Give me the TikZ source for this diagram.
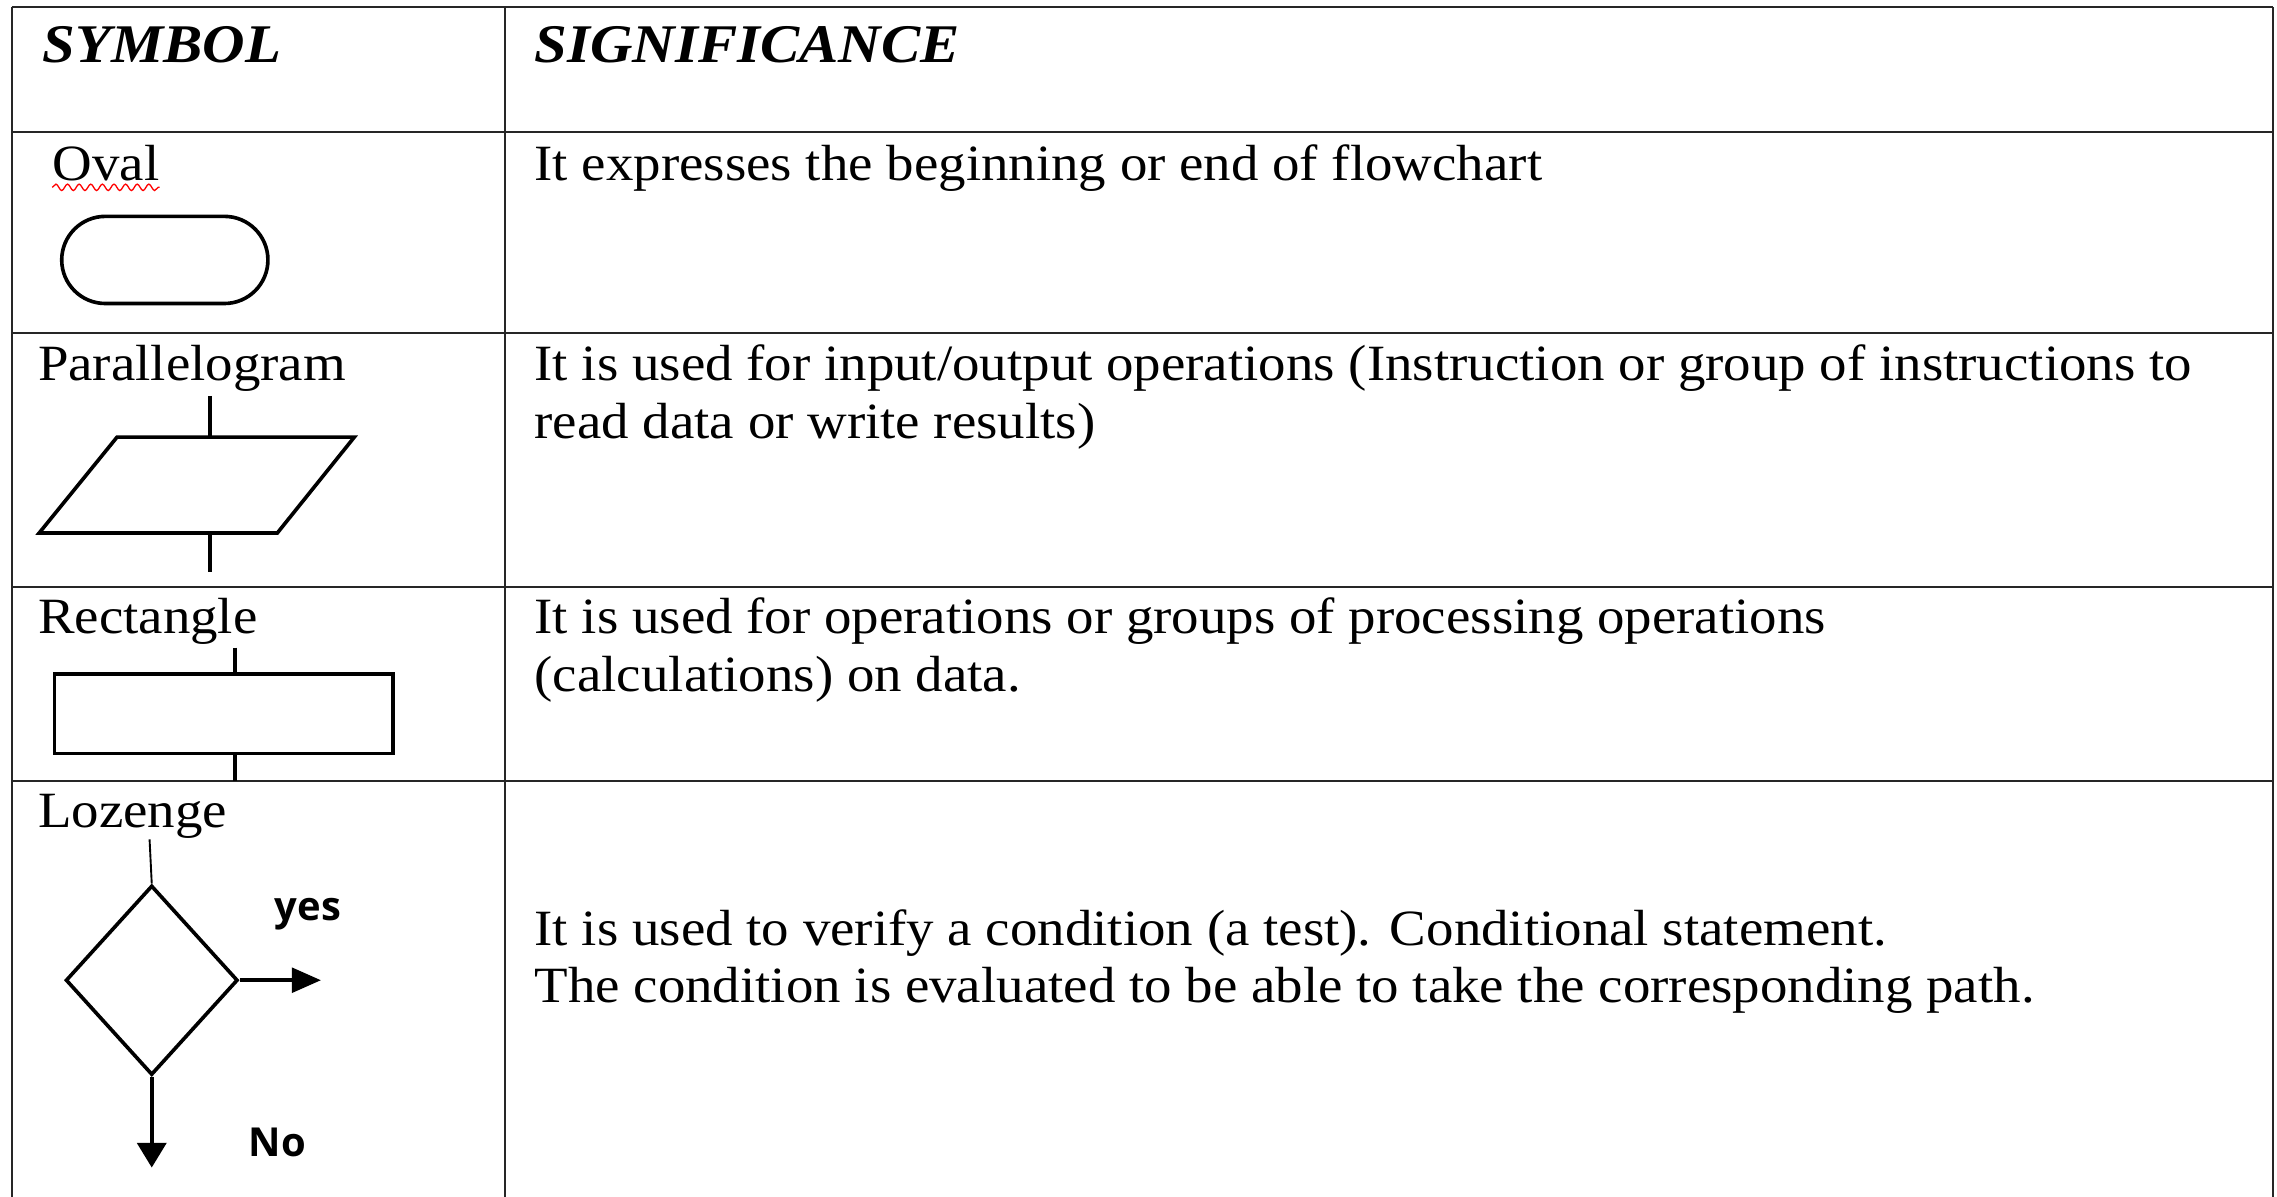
\documentclass[tikz,border=0pt]{standalone}
\usepackage{fontspec}
\setmainfont{Liberation Serif}[FakeStretch=1.08]
\newfontfamily\labelsans{Open Sans}
\usetikzlibrary{arrows.meta,shapes.geometric,decorations.pathmorphing}

\tikzset{
  grid/.style={line width=1.4pt, draw=black!85},
  body/.style={anchor=base west, inner sep=0pt, font=\fontsize{35}{40}\selectfont},
  head/.style={anchor=base west, inner sep=0pt, font=\fontsize{37.5}{42}\selectfont\bfseries\itshape},
  symline/.style={draw=black, line width=2.5pt},
  thinstub/.style={draw=black, line width=1.3pt},
  yesarrow/.style={line width=2.5pt, -{Triangle[length=20pt,width=17pt]}},
  noarrow/.style={line width=2.5pt, -{Triangle[length=17pt,width=20pt]}},
  answer/.style={anchor=base west, inner sep=0pt, font=\labelsans\bfseries\fontsize{27.5}{30}\selectfont},
  spellmark/.style={draw=red, line width=0.9pt, decorate,
    decoration={snake, amplitude=2.2pt, segment length=8pt}},
}

\begin{document}
\begin{tikzpicture}[x=1pt, y=-1pt]
  \useasboundingbox (0,0) rectangle (1568,824);

  % table rules
  \foreach \yy in {5,91,229,404,538}
    \draw[grid] (8,\yy) -- (1565,\yy);
  \foreach \xx in {8,348,1565}
    \draw[grid] (\xx,5) -- (\xx,824);

  % header row
  \node[head] (hsym) at (29,43) {SYMBOL};
  \node[head] (hsig) at (368,43) {SIGNIFICANCE};

  % row 1: terminal
  \node[body] (lov) at (36,124) {Oval};
  \draw[spellmark] ([yshift=-5pt]lov.base west) -- ([yshift=-5pt]lov.base east);
  \node[symline, minimum width=142pt, minimum height=60pt, rounded corners=30pt,
        inner sep=0pt] (oval) at (113.5,179) {};
  \node[body] (dov) at (368,124) {It expresses the beginning or end of flowchart};

  % row 2: input / output
  \node[body] (lpa) at (26,262) {Parallelogram};
  \coordinate (pa-bl) at (27,367);
  \coordinate (pa-br) at (191,367);
  \coordinate (pa-tr) at (244,301);
  \coordinate (pa-tl) at (80.6,301);
  \draw[symline, line join=miter] (pa-bl) -- (pa-br) -- (pa-tr) -- (pa-tl) -- cycle;
  \coordinate (pa-top) at (144.6,301);
  \coordinate (pa-bot) at (144.6,367);
  \coordinate (pa-in) at (144.6,272.6);
  \coordinate (pa-out) at (144.6,394);
  \draw[symline] (pa-in) -- (pa-top);
  \draw[symline] (pa-bot) -- (pa-out);
  \node[body] (dpa1) at (368,262) {It is used for input/output operations (Instruction or group of instructions to};
  \node[body] (dpa2) at (368,302) {read data or write results)};

  % row 3: process
  \node[body] (lre) at (26,436) {Rectangle};
  \node[symline, minimum width=233pt, minimum height=54.7pt, inner sep=0pt]
        (proc) at (154,491.4) {};
  \coordinate (proc-in) at (162,446);
  \coordinate (proc-out) at (162,538);
  \draw[symline] (proc-in) -- (proc-in |- proc.north);
  \draw[symline] (proc-out |- proc.south) -- (proc-out);
  \node[body] (dre1) at (368,436) {It is used for operations or groups of processing operations};
  \node[body] (dre2) at (368,476) {(calculations) on data.};

  % row 4: decision
  \node[body] (llo) at (26,570) {Lozenge};
  \node[diamond, symline, minimum width=118.5pt, minimum height=130.5pt,
        inner sep=0pt] (test) at (104.5,675) {};
  \coordinate (test-in) at (103,578);
  \draw[thinstub] (test-in) -- (test.north);
  \coordinate (yes-end) at (221,675);
  \coordinate (no-end) at (104.5,804);
  \draw[yesarrow] (test.east) -- (yes-end);
  \draw[noarrow] (test.south) -- (no-end);
  \node[answer] (yes) at (189,634) {yes};
  \node[answer] (no) at (171,796.5) {No};
  \node[body] (dlo1) at (368,651) {It is used to verify a condition (a test). Conditional statement.};
  \node[body] (dlo2) at (368,690) {The condition is evaluated to be able to take the corresponding path.};
\end{tikzpicture}
\end{document}
